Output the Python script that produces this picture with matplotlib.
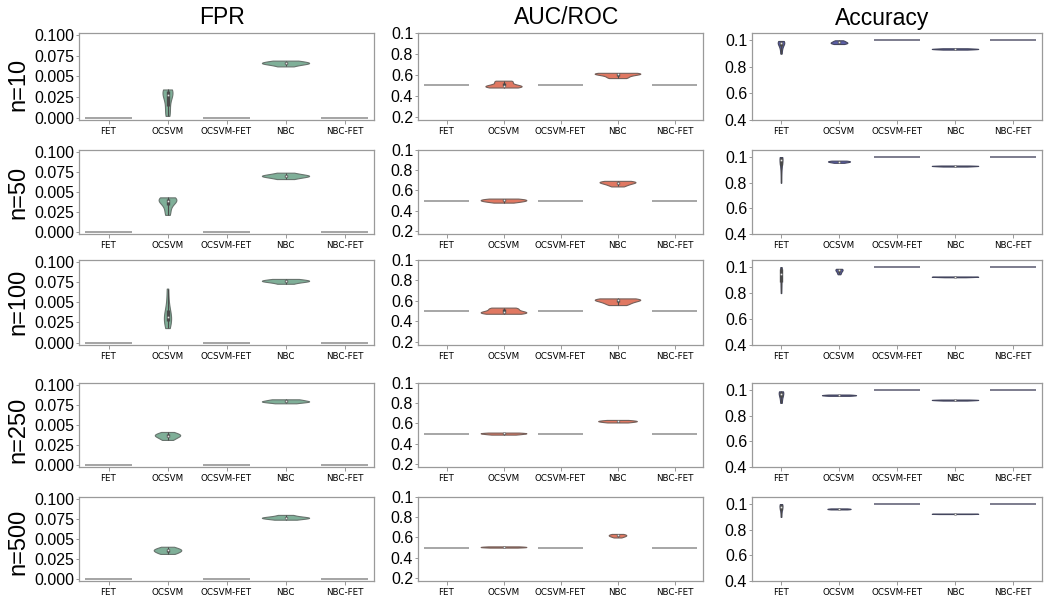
"""Violin grid: FPR, AUC/ROC and accuracy per method for several sample sizes."""

import numpy as np
import matplotlib
matplotlib.use('Agg')
import matplotlib.pyplot as plt

METHODS = ["FET", "OCSVM", "OCSVM-FET", "NBC", "NBC-FET"]
ROW_LABELS = ["n=10", "n=50", "n=100", "n=250", "n=500"]
COLUMN_TITLES = ["FPR", "AUC/ROC", "Accuracy"]

# observed values per method, in METHODS order
FPR_N10 = [[0.0], [0.002, 0.006, 0.012, 0.020, 0.026, 0.029, 0.031, 0.032, 0.033, 0.034], [0.0],
           [0.062, 0.064, 0.065, 0.066, 0.066, 0.067, 0.068, 0.069], [0.0]]
FPR_N50 = [[0.0], [0.021, 0.027, 0.033, 0.037, 0.039, 0.040, 0.041, 0.042, 0.043], [0.0],
           [0.066, 0.068, 0.069, 0.070, 0.070, 0.071, 0.072, 0.074], [0.0]]
FPR_N100 = [[0.0], [0.018, 0.022, 0.026, 0.029, 0.031, 0.033, 0.036, 0.042, 0.052, 0.067], [0.0],
            [0.073, 0.075, 0.076, 0.0765, 0.077, 0.078, 0.079], [0.0]]
FPR_N250 = [[0.0], [0.031, 0.033, 0.035, 0.036, 0.037, 0.038, 0.039, 0.041], [0.0],
            [0.077, 0.0785, 0.079, 0.0795, 0.080, 0.0815, 0.082], [0.0]]
FPR_N500 = [[0.0], [0.031, 0.0325, 0.034, 0.035, 0.036, 0.037, 0.038, 0.040], [0.0],
            [0.074, 0.0755, 0.076, 0.0765, 0.077, 0.078, 0.080], [0.0]]

AUC_N10 = [[0.5], [0.48, 0.485, 0.49, 0.49, 0.495, 0.50, 0.51, 0.53, 0.54, 0.545], [0.5],
           [0.57, 0.58, 0.595, 0.605, 0.61, 0.615, 0.618, 0.62], [0.5]]
AUC_N50 = [[0.5], [0.48, 0.49, 0.495, 0.50, 0.505, 0.51, 0.515, 0.52], [0.5],
           [0.64, 0.655, 0.665, 0.675, 0.68, 0.685, 0.69, 0.695], [0.5]]
AUC_N100 = [[0.5], [0.475, 0.48, 0.485, 0.49, 0.495, 0.505, 0.52, 0.53, 0.535], [0.5],
            [0.56, 0.575, 0.59, 0.60, 0.61, 0.615, 0.62, 0.625], [0.5]]
AUC_N250 = [[0.5], [0.49, 0.495, 0.50, 0.503, 0.506, 0.51], [0.5],
            [0.61, 0.615, 0.62, 0.623, 0.626, 0.63, 0.635], [0.5]]
AUC_N500 = [[0.5], [0.50, 0.503, 0.505, 0.507, 0.51, 0.512], [0.5],
            [0.60, 0.61, 0.615, 0.62, 0.625, 0.63, 0.635], [0.5]]

ACC_N10 = [[0.90, 0.93, 0.95, 0.965, 0.975, 0.98, 0.985, 0.99, 0.99, 0.995],
           [0.972, 0.976, 0.98, 0.982, 0.985, 0.99, 0.995, 1.0], [1.0],
           [0.93, 0.932, 0.934, 0.935, 0.936, 0.938, 0.94], [1.0]]
ACC_N50 = [[0.80, 0.88, 0.93, 0.96, 0.975, 0.985, 0.99, 0.995, 1.0, 1.0],
           [0.955, 0.96, 0.962, 0.965, 0.967, 0.97, 0.972], [1.0],
           [0.926, 0.928, 0.93, 0.931, 0.932, 0.934], [1.0]]
ACC_N100 = [[0.80, 0.85, 0.88, 0.91, 0.94, 0.96, 0.975, 0.99, 1.0, 1.0],
            [0.945, 0.955, 0.965, 0.972, 0.978, 0.982, 0.985, 0.987], [1.0],
            [0.922, 0.924, 0.925, 0.926, 0.927, 0.928], [1.0]]
ACC_N250 = [[0.90, 0.93, 0.955, 0.97, 0.98, 0.985, 0.99],
            [0.955, 0.958, 0.96, 0.962, 0.965], [1.0],
            [0.918, 0.92, 0.922, 0.923, 0.924, 0.926], [1.0]]
ACC_N500 = [[0.90, 0.94, 0.96, 0.975, 0.985, 0.99, 0.995, 1.0],
            [0.958, 0.96, 0.962, 0.964, 0.966], [1.0],
            [0.922, 0.923, 0.924, 0.925, 0.926], [1.0]]

# tick positions and the labels printed next to them
FPR_TICKS = [0.0, 0.025, 0.05, 0.075, 0.1]
FPR_TICK_LABELS = ["0.000", "0.025", "0.005", "0.075", "0.100"]
AUC_TICKS = [0.2, 0.4, 0.6, 0.8, 1.0]
AUC_TICK_LABELS = ["0.2", "0.4", "0.6", "0.8", "0.1"]
ACC_TICKS = [0.4, 0.6, 0.8, 1.0]
ACC_TICK_LABELS = ["0.4", "0.6", "0.8", "0.1"]

COLUMNS = [
    dict(rows=[FPR_N10, FPR_N50, FPR_N100, FPR_N250, FPR_N500], ticks=FPR_TICKS,
         labels=FPR_TICK_LABELS, ylim=(-0.003, 0.1025), color="#7faf98", edge="#68746e",
         line="#959595"),
    dict(rows=[AUC_N10, AUC_N50, AUC_N100, AUC_N250, AUC_N500], ticks=AUC_TICKS,
         labels=AUC_TICK_LABELS, ylim=(0.17, 1.0), color="#e07862", edge="#76605a",
         line="#979797"),
    dict(rows=[ACC_N10, ACC_N50, ACC_N100, ACC_N250, ACC_N500], ticks=ACC_TICKS,
         labels=ACC_TICK_LABELS, ylim=(0.4, 1.055), color="#5b5ea6", edge="#44465e",
         line="#66667a"),
]

W, H = 1053, 599
COL_X = [(79, 374), (418, 703), (752, 1042)]
ROW_Y = [(33, 120), (150, 234), (260, 345), (383, 467), (497, 581)]
TITLE_X = [222, 567, 882]
ROW_LABEL_Y = [84, 192, 302, 430, 542]


def kde(vals, grid):
    vals = np.asarray(vals, dtype=float)
    bw = vals.std(ddof=1) * len(vals) ** (-0.2)
    z = (grid[:, None] - vals[None, :]) / bw
    return np.exp(-0.5 * z ** 2).sum(axis=1) / (len(vals) * bw * np.sqrt(2 * np.pi))


def draw_panel(ax, groups, spec):
    shapes = []
    for pos, vals in enumerate(groups):
        if len(set(vals)) == 1:
            ax.hlines(vals[0], pos - 0.4, pos + 0.4, color=spec["line"], lw=1.2, zorder=2)
            continue
        grid = np.linspace(min(vals), max(vals), 200)
        shapes.append((pos, vals, grid, kde(vals, grid)))

    # equal-area scaling across the panel, like seaborn's default
    peak = max(d.max() for _, _, _, d in shapes)
    for pos, vals, grid, dens in shapes:
        half = dens / peak * 0.4
        ax.fill_betweenx(grid, pos - half, pos + half, facecolor=spec["color"],
                         edgecolor=spec["edge"], lw=0.8, zorder=2)
        q1, med, q3 = np.percentile(vals, [25, 50, 75])
        ax.vlines(pos, min(vals), max(vals), color="#4a4a4a", lw=0.8, zorder=3)
        ax.vlines(pos, q1, q3, color="#4a4a4a", lw=2.4, zorder=3)
        ax.scatter([pos], [med], s=2.5, c="#e8e8e8", edgecolors="#555555", linewidths=0.3,
                   zorder=4)

    ax.set_xlim(-0.5, len(groups) - 0.5)
    ax.set_ylim(*spec["ylim"])
    ax.set_xticks(range(len(METHODS)))
    ax.set_xticklabels(METHODS, fontsize=6.3, family="DejaVu Sans")
    ax.set_yticks(spec["ticks"])
    ax.set_yticklabels(spec["labels"], fontsize=11.5, family="Liberation Sans")
    ax.tick_params(axis="x", length=3, width=0.6, color="#888888", pad=2)
    ax.tick_params(axis="y", length=2, width=0.6, color="#888888", pad=1.5)
    for sp in ax.spines.values():
        sp.set_color("#9a9a9a")
        sp.set_linewidth(0.9)


fig = plt.figure(figsize=(W / 100, H / 100), dpi=100)

for c, spec in enumerate(COLUMNS):
    x0, x1 = COL_X[c]
    for r, groups in enumerate(spec["rows"]):
        y0, y1 = ROW_Y[r]
        ax = fig.add_axes([x0 / W, 1 - y1 / H, (x1 - x0) / W, (y1 - y0) / H])
        draw_panel(ax, groups, spec)
    fig.text(TITLE_X[c] / W, 1 - 18 / H, COLUMN_TITLES[c], ha="center", va="center",
             fontsize=16.5, family="Liberation Sans")

for r, label in enumerate(ROW_LABELS):
    fig.text(18 / W, 1 - ROW_LABEL_Y[r] / H, label, rotation=90, ha="center", va="center",
             fontsize=17, family="Liberation Sans")

fig.savefig("out.png", dpi=100)
